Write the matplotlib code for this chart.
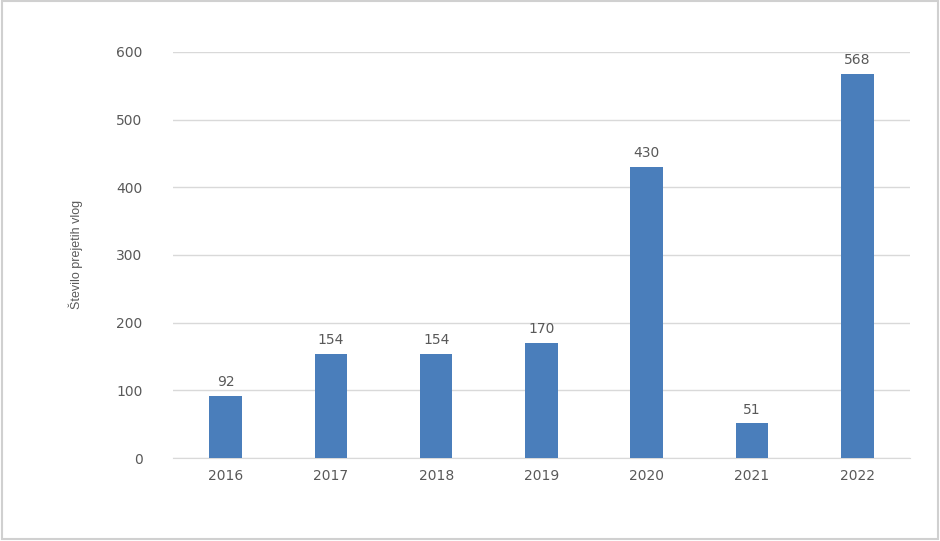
import matplotlib
matplotlib.use("Agg")
import matplotlib.pyplot as plt
from matplotlib.patches import Rectangle

years = ["2016", "2017", "2018", "2019", "2020", "2021", "2022"]
values = [92, 154, 154, 170, 430, 51, 568]
yticks = [0, 100, 200, 300, 400, 500, 600]

fig = plt.figure(figsize=(9.4, 5.41), dpi=100)
ax = fig.add_axes([0.184, 0.1534, 0.784, 0.7506])

x = list(range(len(years)))
bars = ax.bar(x, values, width=0.31, color="#4a7ebb", zorder=3)
for xi, v in zip(x, values):
    ax.text(xi, v + 10, str(v), ha="center", va="bottom", fontsize=10, color="#595959")

ax.set_xlim(-0.5, len(years) - 0.5)
ax.set_ylim(0, 600)
ax.set_yticks(yticks)
ax.set_yticklabels([str(t) for t in yticks])
ax.set_xticks(x)
ax.set_xticklabels(years)
ax.tick_params(axis="both", length=0, labelsize=10, colors="#595959")
ax.tick_params(axis="y", pad=22)
ax.tick_params(axis="x", pad=8)
ax.grid(axis="y", color="#d9d9d9", linewidth=1, zorder=0)
for s in ["top", "right", "left"]:
    ax.spines[s].set_visible(False)
ax.spines["bottom"].set_color("#d9d9d9")

fig.text(0.081, 0.53, "Število prejetih vlog", rotation=90, ha="center", va="center",
         fontsize=9, color="#595959", family="Liberation Sans")

fig.patches.append(Rectangle((0.002, 0.004), 0.996, 0.994, transform=fig.transFigure,
                             fill=False, edgecolor="#d0d0d0", linewidth=1.5))

fig.savefig("out.png", dpi=100)
